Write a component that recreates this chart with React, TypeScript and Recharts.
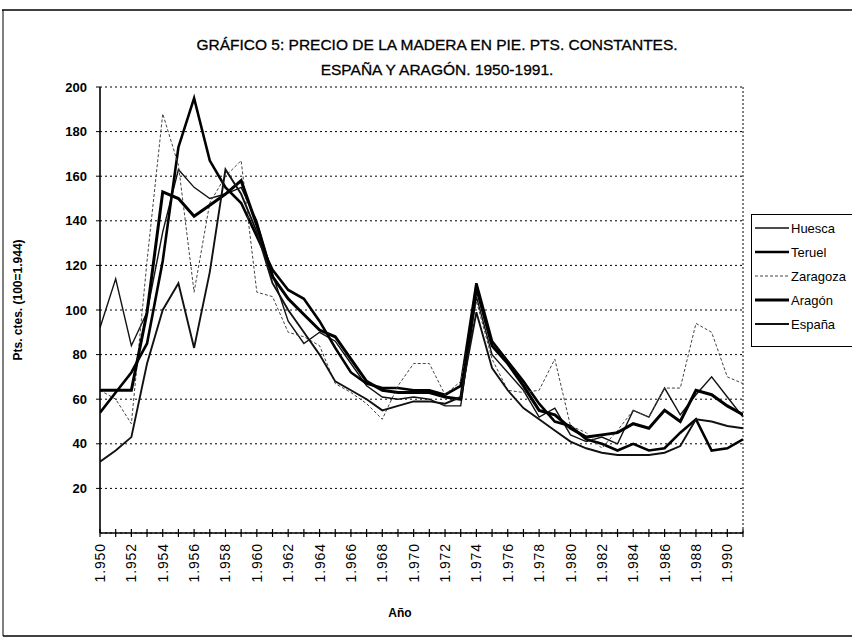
import React from 'react';
import { LineChart, Line, XAxis, YAxis, CartesianGrid, ReferenceLine, Legend } from 'recharts';

const years = [
  1950, 1951, 1952, 1953, 1954, 1955, 1956, 1957, 1958, 1959,
  1960, 1961, 1962, 1963, 1964, 1965, 1966, 1967, 1968, 1969,
  1970, 1971, 1972, 1973, 1974, 1975, 1976, 1977, 1978, 1979,
  1980, 1981, 1982, 1983, 1984, 1985, 1986, 1987, 1988, 1989,
  1990, 1991,
];

const huesca = [
  92, 114, 84, 99, 135, 163, 155, 150, 152, 155,
  140, 116, 95, 85, 90, 86, 76, 66, 61, 60,
  61, 60, 57, 57, 106, 80, 72, 64, 52, 56,
  44, 41, 43, 40, 55, 52, 65, 53, 62, 70,
  61, 52,
];

const teruel = [
  54, 63, 72, 85, 122, 173, 195, 167, 155, 148,
  133, 118, 109, 105, 95, 83, 72, 67, 65, 65,
  64, 64, 62, 66, 112, 86, 77, 68, 58, 50,
  48, 42, 40, 37, 40, 37, 38, 45, 51, 37,
  38, 42,
];

const zaragoza = [
  64, 60, 49, 122, 188, 165, 108, 148, 160, 167,
  108, 106, 90, 88, 84, 67, 63, 58, 51, 66,
  76, 76, 62, 68, 104, 78, 64, 63, 64, 78,
  48, 45, 38, 46, 55, 52, 65, 65, 94, 90,
  70, 67,
];

const aragon = [
  64, 64, 64, 99, 153, 150, 142, 147, 152, 158,
  138, 115, 105, 98, 91, 88, 78, 68, 64, 63,
  63, 63, 61, 60, 110, 84, 76, 66, 55, 53,
  47, 43, 44, 45, 49, 47, 55, 50, 64, 62,
  57, 53,
];

const espana = [
  32, 37, 43, 76, 100, 112, 83, 117, 163, 152,
  135, 112, 100, 90, 80, 68, 64, 60, 55, 57,
  59, 59, 58, 61, 99, 74, 64, 56, 51, 46,
  41, 38, 36, 35, 35, 35, 36, 39, 51, 50,
  48, 47,
];

const yTicks = [20, 40, 60, 80, 100, 120, 140, 160, 180, 200];
const xLabelYears = [
  1950, 1952, 1954, 1956, 1958, 1960, 1962, 1964, 1966, 1968, 1970,
  1972, 1974, 1976, 1978, 1980, 1982, 1984, 1986, 1988, 1990,
];

const titleLine1 = 'GRÁFICO 5: PRECIO DE LA MADERA EN PIE. PTS. CONSTANTES.';
const titleLine2 = 'ESPAÑA Y ARAGÓN. 1950-1991.';
const yAxisTitle = 'Pts. ctes. (100=1.944)';
const xAxisTitle = 'Año';

const FONT = '"Liberation Sans", Arial, Helvetica, sans-serif';

const seriesDefs = [
  { key: 'Huesca', values: huesca, color: '#111', width: 1.4, dash: undefined as string | undefined },
  { key: 'Teruel', values: teruel, color: '#000', width: 2.6, dash: undefined as string | undefined },
  { key: 'Zaragoza', values: zaragoza, color: '#444', width: 1, dash: '3 2' },
  { key: 'Aragón', values: aragon, color: '#000', width: 3, dash: undefined as string | undefined },
  { key: 'España', values: espana, color: '#111', width: 1.9, dash: undefined as string | undefined },
];

const data = years.map((year, i) => {
  const row: Record<string, number> = { year };
  seriesDefs.forEach((s) => {
    row[s.key] = s.values[i];
  });
  return row;
});

const fmtYear = (y: number) => {
  const s = String(y);
  return s.slice(0, 1) + '.' + s.slice(1);
};

function XTick(props: any) {
  const { x, y, payload } = props;
  const v = payload.value as number;
  const show = xLabelYears.includes(v);
  const ly = y + 10;
  return (
    <g>
      <line x1={x} x2={x} y1={y - 4} y2={y + 4} stroke="#000" strokeWidth={1.2} />
      {show && (
        <text
          x={x}
          y={ly}
          dy="0.36em"
          textAnchor="end"
          transform={`rotate(-90, ${x}, ${ly})`}
          fontSize={14}
          fontFamily={FONT}
          fill="#000"
          letterSpacing={0.9}
        >
          {fmtYear(v)}
        </text>
      )}
    </g>
  );
}

function YTick(props: any) {
  const { x, y, payload } = props;
  return (
    <g>
      <line x1={x - 4} x2={x} y1={y} y2={y} stroke="#000" strokeWidth={1} />
      <text x={x - 13} y={y} dy="0.36em" textAnchor="end" fontSize={13} fontWeight="bold" fontFamily={FONT} fill="#000">
        {payload.value}
      </text>
    </g>
  );
}

function renderLegend() {
  return (
    <svg width={110} height={134} style={{ display: 'block', overflow: 'visible' }}>
      <rect x={0.5} y={0.5} width={130} height={132} fill="#fff" stroke="#000" strokeWidth={1} />
      {seriesDefs.map((s, i) => {
        const cy = 14 + i * 24;
        return (
          <g key={s.key}>
            <line x1={4} x2={38} y1={cy} y2={cy} stroke={s.color} strokeWidth={s.width} strokeDasharray={s.dash} />
            <text x={40} y={cy} dy="0.36em" fontSize={13} fontFamily={FONT} fill="#000">
              {s.key}
            </text>
          </g>
        );
      })}
    </svg>
  );
}

export default function App() {
  return (
    <div style={{ position: 'absolute', left: 0, top: 0, width: 852, height: 641, background: '#fff', overflow: 'hidden' }}>
      <LineChart width={852} height={641} data={data} margin={{ top: 87, right: 109, left: 0, bottom: 0 }}>
        <CartesianGrid vertical={false} stroke="#000" strokeDasharray="2 3" strokeWidth={1} />
        <XAxis
          dataKey="year"
          type="number"
          domain={[1950, 1991]}
          ticks={years}
          interval={0}
          tick={(p: any) => <XTick {...p} />}
          tickLine={false}
          tickSize={0}
          tickMargin={0}
          axisLine={{ stroke: '#000', strokeWidth: 1.6 }}
          height={108}
          allowDataOverflow
        />
        <YAxis
          type="number"
          domain={[0, 200]}
          ticks={yTicks}
          interval={0}
          tick={(p: any) => <YTick {...p} />}
          tickLine={false}
          tickSize={0}
          tickMargin={0}
          axisLine={{ stroke: '#000', strokeWidth: 1.6 }}
          width={100}
        />
        <ReferenceLine x={1991} stroke="#000" strokeDasharray="2 2" strokeWidth={1} />
        {seriesDefs.map((s) => (
          <Line
            key={s.key}
            dataKey={s.key}
            type="linear"
            stroke={s.color}
            strokeWidth={s.width}
            strokeDasharray={s.dash}
            dot={false}
            activeDot={false}
            isAnimationActive={false}
          />
        ))}
        <Legend
          layout="vertical"
          align="center"
          verticalAlign="middle"
          wrapperStyle={{ left: 751, top: 214, width: 110, height: 134 }}
          content={renderLegend}
        />
      </LineChart>
      <svg
        width={852}
        height={641}
        style={{ position: 'absolute', left: 0, top: 0, pointerEvents: 'none' }}
      >
        <line x1={2} x2={852} y1={10} y2={10} stroke="#000" strokeWidth={1.5} />
        <line x1={3} x2={3} y1={10} y2={636} stroke="#000" strokeWidth={1} />
        <line x1={3} x2={852} y1={636} y2={636} stroke="#000" strokeWidth={1.5} />
        <text x={437} y={50} textAnchor="middle" fontSize={15.5} fontFamily={FONT} fill="#000" stroke="#000" strokeWidth={0.3}>
          {titleLine1}
        </text>
        <text x={437} y={75} textAnchor="middle" fontSize={15.5} fontFamily={FONT} fill="#000" stroke="#000" strokeWidth={0.3}>
          {titleLine2}
        </text>
        <text
          x={22}
          y={300}
          textAnchor="middle"
          transform="rotate(-90, 22, 300)"
          fontSize={12}
          fontWeight="bold"
          fontFamily={FONT}
          fill="#000"
        >
          {yAxisTitle}
        </text>
        <text x={400} y={617} textAnchor="middle" fontSize={12} fontWeight="bold" fontFamily={FONT} fill="#000">
          {xAxisTitle}
        </text>
      </svg>
    </div>
  );
}
